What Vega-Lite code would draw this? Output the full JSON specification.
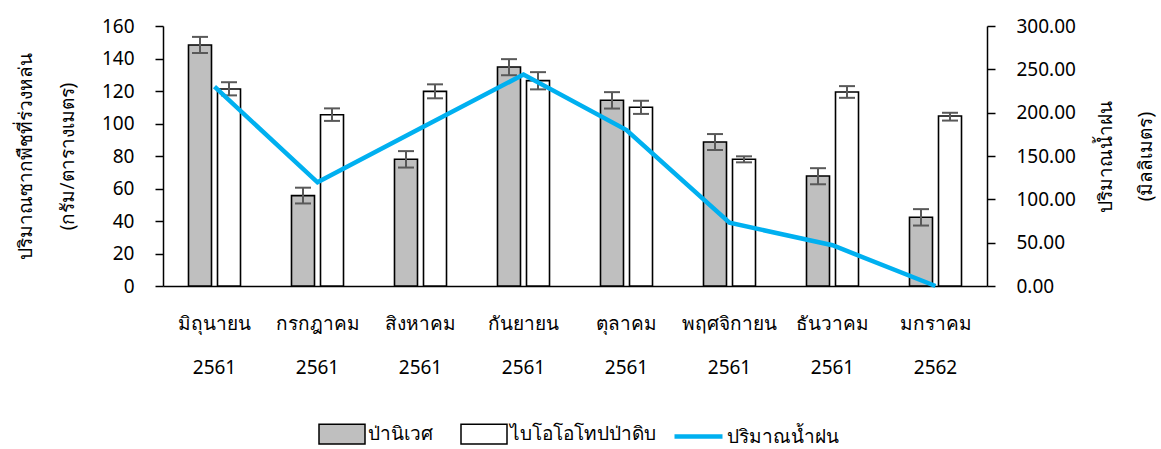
{
  "$schema": "https://vega.github.io/schema/vega-lite/v6.json",
  "width": 824,
  "height": 260,
  "autosize": {"type": "none"},
  "padding": {"left": 163, "top": 26, "right": 174, "bottom": 163},
  "config": {
    "font": "Noto Sans",
    "view": {"stroke": null},
    "axis": {
      "grid": false,
      "domainColor": "#000000",
      "tickColor": "#000000",
      "labelColor": "#000000",
      "titleColor": "#000000",
      "labelFontSize": 19,
      "titleFontSize": 19,
      "titleFontWeight": "normal",
      "domainWidth": 1.5,
      "tickWidth": 1.5
    },
    "legend": {"labelFontSize": 19, "labelColor": "#000000", "labelLimit": 400}
  },
  "datasets": {
    "bars": [
      {"month": "มิถุนายน 2561", "series": "ป่านิเวศ", "value": 148.3, "lo": 143.4, "hi": 153.3},
      {"month": "มิถุนายน 2561", "series": "ไบโอโอโทปป่าดิบ", "value": 121.2, "lo": 117.3, "hi": 125.4},
      {"month": "กรกฎาคม 2561", "series": "ป่านิเวศ", "value": 55.6, "lo": 50.8, "hi": 60.5},
      {"month": "กรกฎาคม 2561", "series": "ไบโอโอโทปป่าดิบ", "value": 105.4, "lo": 101.6, "hi": 109.3},
      {"month": "สิงหาคม 2561", "series": "ป่านิเวศ", "value": 78.0, "lo": 72.9, "hi": 83.0},
      {"month": "สิงหาคม 2561", "series": "ไบโอโอโทปป่าดิบ", "value": 119.8, "lo": 115.5, "hi": 124.1},
      {"month": "กันยายน 2561", "series": "ป่านิเวศ", "value": 134.8, "lo": 129.7, "hi": 139.6},
      {"month": "กันยายน 2561", "series": "ไบโอโอโทปป่าดิบ", "value": 126.4, "lo": 121.0, "hi": 131.6},
      {"month": "ตุลาคม 2561", "series": "ป่านิเวศ", "value": 114.3, "lo": 109.2, "hi": 119.3},
      {"month": "ตุลาคม 2561", "series": "ไบโอโอโทปป่าดิบ", "value": 110.0, "lo": 105.9, "hi": 114.0},
      {"month": "พฤศจิกายน 2561", "series": "ป่านิเวศ", "value": 88.6, "lo": 83.7, "hi": 93.5},
      {"month": "พฤศจิกายน 2561", "series": "ไบโอโอโทปป่าดิบ", "value": 78.0, "lo": 76.1, "hi": 79.8},
      {"month": "ธันวาคม 2561", "series": "ป่านิเวศ", "value": 67.7, "lo": 62.6, "hi": 72.5},
      {"month": "ธันวาคม 2561", "series": "ไบโอโอโทปป่าดิบ", "value": 119.4, "lo": 115.8, "hi": 123.0},
      {"month": "มกราคม 2562", "series": "ป่านิเวศ", "value": 42.3, "lo": 37.2, "hi": 47.3},
      {"month": "มกราคม 2562", "series": "ไบโอโอโทปป่าดิบ", "value": 104.6, "lo": 101.8, "hi": 106.6}
    ],
    "rain": [
      {"month": "มิถุนายน 2561", "rain": 230.0},
      {"month": "กรกฎาคม 2561", "rain": 119.6},
      {"month": "สิงหาคม 2561", "rain": 182.0},
      {"month": "กันยายน 2561", "rain": 244.0},
      {"month": "ตุลาคม 2561", "rain": 180.0},
      {"month": "พฤศจิกายน 2561", "rain": 73.0},
      {"month": "ธันวาคม 2561", "rain": 47.0},
      {"month": "มกราคม 2562", "rain": 0.0}
    ]
  },
  "layer": [
    {
      "data": {"name": "bars"},
      "layer": [
        {
          "mark": {"type": "bar", "stroke": "#000000", "strokeWidth": 1.6},
          "encoding": {
            "fill": {
              "field": "series",
              "type": "nominal",
              "scale": {
                "domain": ["ป่านิเวศ", "ไบโอโอโทปป่าดิบ"],
                "range": ["#BFBFBF", "#FFFFFF"]
              },
              "legend": {
                "title": null,
                "orient": "none",
                "legendX": 155,
                "legendY": 384,
                "direction": "horizontal",
                "labelOffset": 2,
                "columnPadding": 25,
                "symbolSize": 2116,
                "symbolType": "M-1,-0.43H1V0.43H-1Z",
                "symbolStrokeColor": "#000000",
                "symbolStrokeWidth": 1.5,
                "symbolOpacity": 1
              }
            },
            "y": {"field": "value", "type": "quantitative"}
          }
        },
        {
          "mark": {"type": "rule", "color": "#595959", "strokeWidth": 2},
          "encoding": {
            "y": {"field": "lo", "type": "quantitative"},
            "y2": {"field": "hi"}
          }
        },
        {
          "mark": {"type": "tick", "color": "#595959", "thickness": 2, "size": 16, "opacity": 1},
          "encoding": {"y": {"field": "lo", "type": "quantitative"}}
        },
        {
          "mark": {"type": "tick", "color": "#595959", "thickness": 2, "size": 16, "opacity": 1},
          "encoding": {"y": {"field": "hi", "type": "quantitative"}}
        }
      ],
      "encoding": {
        "x": {
          "field": "month",
          "type": "nominal",
          "sort": ["มิถุนายน 2561", "กรกฎาคม 2561", "สิงหาคม 2561", "กันยายน 2561", "ตุลาคม 2561", "พฤศจิกายน 2561", "ธันวาคม 2561", "มกราคม 2562"],
          "scale": {"paddingInner": 0.495, "paddingOuter": 0.2475},
          "axis": {
            "title": null,
            "labelExpr": "split(datum.value, ' ')",
            "labelAngle": 0,
            "ticks": false,
            "labelPadding": 28,
            "labelLineHeight": 44
          }
        },
        "xOffset": {
          "field": "series",
          "type": "nominal",
          "sort": ["ป่านิเวศ", "ไบโอโอโทปป่าดิบ"],
          "scale": {"paddingInner": 0.207, "paddingOuter": 0}
        },
        "y": {
          "type": "quantitative",
          "scale": {"domain": [0, 160], "nice": false},
          "axis": {
            "orient": "left",
            "values": [0, 20, 40, 60, 80, 100, 120, 140, 160],
            "tickSize": 8,
            "labelPadding": 21,
            "title": ["ปริมาณซากพืชที่ร่วงหล่น", "(กรัม/ตารางเมตร)"],
            "titlePadding": 24,
            "titleLineHeight": 42
          }
        }
      }
    },
    {
      "data": {"name": "rain"},
      "mark": {"type": "line", "strokeWidth": 4.5},
      "encoding": {
        "x": {
          "field": "month",
          "type": "nominal",
          "sort": ["มิถุนายน 2561", "กรกฎาคม 2561", "สิงหาคม 2561", "กันยายน 2561", "ตุลาคม 2561", "พฤศจิกายน 2561", "ธันวาคม 2561", "มกราคม 2562"]
        },
        "y": {
          "field": "rain",
          "type": "quantitative",
          "scale": {"domain": [0, 300], "nice": false},
          "axis": {
            "orient": "right",
            "values": [0, 50, 100, 150, 200, 250, 300],
            "format": ".2f",
            "tickSize": 8,
            "labelPadding": 21,
            "title": ["ปริมาณน้ำฝน", "(มิลลิเมตร)"],
            "titleAngle": -90,
            "titlePadding": 0,
            "titleLineHeight": 40
          }
        },
        "stroke": {
          "datum": "ปริมาณน้ำฝน",
          "scale": {"range": ["#00B0F0"]},
          "legend": {
            "title": null,
            "orient": "none",
            "legendX": 509,
            "legendY": 384,
            "labelOffset": 2,
            "symbolSize": 2304,
            "symbolType": "stroke",
            "symbolStrokeWidth": 4.5,
            "symbolOpacity": 1
          }
        }
      }
    }
  ],
  "resolve": {"scale": {"y": "independent"}, "axis": {"y": "independent"}}
}
